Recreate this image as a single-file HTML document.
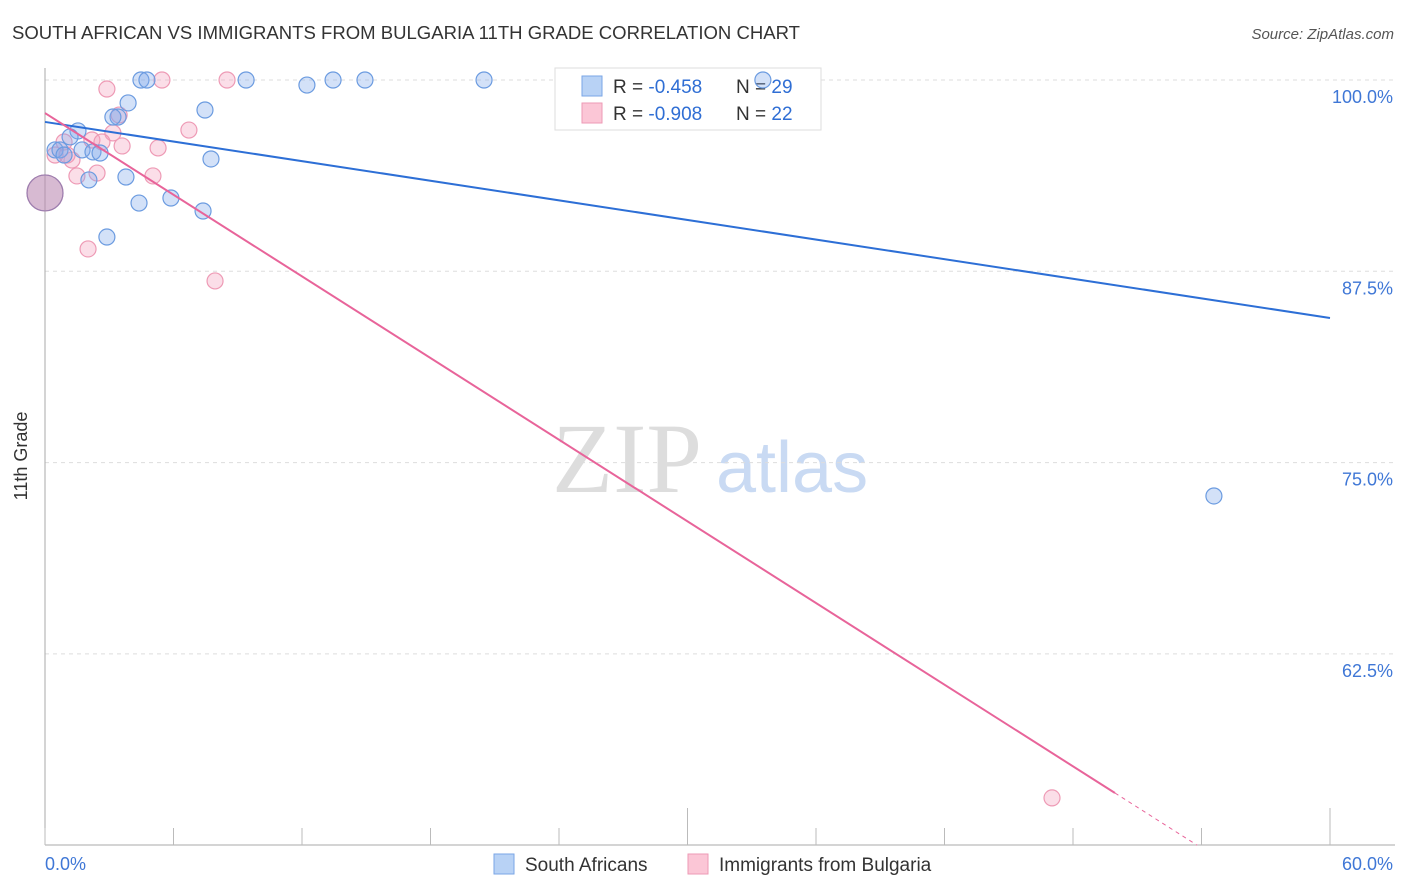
<!DOCTYPE html>
<html><head><meta charset="utf-8"><style>
body{margin:0;background:#fff;font-family:"Liberation Sans",sans-serif;}
svg{display:block}
</style></head><body>
<svg width="1406" height="892" xmlns="http://www.w3.org/2000/svg" id="chart">
<text x="12" y="39" font-size="18" fill="#333" textLength="788" lengthAdjust="spacingAndGlyphs">SOUTH AFRICAN VS IMMIGRANTS FROM BULGARIA 11TH GRADE CORRELATION CHART</text>
<text x="1394" y="39" font-size="15" fill="#555" font-style="italic" text-anchor="end">Source: ZipAtlas.com</text>
<g>
<text x="552" y="492" font-family="Liberation Serif,serif" font-size="100" fill="#ddd">ZIP</text>
<text x="716" y="492" font-size="72" fill="#c9daf3">atlas</text>
</g>
<g id="grid"></g>
<line x1="45" y1="68" x2="45" y2="845" stroke="#aaa"/>
<line x1="45" y1="845" x2="1395" y2="845" stroke="#aaa"/>
<g id="xticks"></g>
<text x="27" y="456" font-size="18" fill="#333" transform="rotate(-90 27 456)" text-anchor="middle">11th Grade</text>
<text x="45" y="870" font-size="18" fill="#3f77d6">0.0%</text>
<text x="1393" y="870" font-size="18" fill="#3f77d6" text-anchor="end">60.0%</text>
<g>
<rect x="555" y="68" width="266" height="62" fill="#fff" stroke="#ddd"/>
<rect x="582" y="76" width="20" height="20" fill="#b8d2f5" stroke="#7aa6e6"/>
<rect x="582" y="103" width="20" height="20" fill="#fbc6d6" stroke="#ee9ab5"/>
<text x="613" y="93" font-size="19" fill="#333">R = <tspan fill="#2f6ed4">-0.458</tspan></text>
<text x="736" y="93" font-size="19" fill="#333">N = <tspan fill="#2f6ed4">29</tspan></text>
<text x="613" y="120" font-size="19" fill="#333">R = <tspan fill="#2f6ed4">-0.908</tspan></text>
<text x="736" y="120" font-size="19" fill="#333">N = <tspan fill="#2f6ed4">22</tspan></text>
</g>
<g id="pts"></g>
<g id="lines"></g>
<g>
<rect x="494" y="854" width="20" height="20" fill="#b8d2f5" stroke="#7aa6e6"/>
<text x="525" y="871" font-size="19" fill="#333">South Africans</text>
<rect x="688" y="854" width="20" height="20" fill="#fbc6d6" stroke="#ee9ab5"/>
<text x="719" y="871" font-size="19" fill="#333">Immigrants from Bulgaria</text>
</g>
</svg>
<script>
const yTicks=[100,87.5,75,62.5];
const yTickLabels=["100.0%","87.5%","75.0%","62.5%"];
const xTicks=[0,6,12,18,24,30,36,42,48,54,60];
const blueX=[4.48,4.76,9.39,12.23,13.45,14.94,20.50,33.52,3.88,7.47,3.41,3.17,1.54,1.17,0.47,0.70,1.73,2.24,2.57,7.75,3.78,2.05,4.39,5.88,7.38,2.89,54.58,0.89,0];
const blueY=[100,100,100,99.67,100,100,100,100,98.50,98.04,97.58,97.58,96.67,96.28,95.43,95.43,95.43,95.30,95.23,94.84,93.66,93.47,91.96,92.29,91.44,89.74,72.82,95.10,92.62];
const pinkX=[2.89,5.46,8.50,3.46,6.72,3.17,2.19,0.89,5.28,1.26,0.47,1.03,1.49,2.43,5.04,2.01,7.94,47.02,0,2.66,3.60];
const pinkY=[99.41,100,100,97.71,96.73,96.54,96.08,95.95,95.56,94.77,95.10,95.10,93.73,93.92,93.73,88.96,86.87,53.09,92.62,95.95,95.69];
const blueFit=[97.26,84.45];
const pinkFit=[97.84,53.41];
const X=v=>45+v/60*1285;
const Y=v=>80+(100-v)*15.304;
const NS="http://www.w3.org/2000/svg";
function mk(t,a,p){const e=document.createElementNS(NS,t);for(const k in a)e.setAttribute(k,a[k]);p.appendChild(e);return e;}
const grid=document.getElementById('grid');
yTicks.forEach((v,i)=>{
 const l=mk('line',{x1:45,x2:1395,y1:Y(v),y2:Y(v),stroke:'#ddd','stroke-dasharray':'4,4'},grid);
 
 
 const t=mk('text',{x:1393,y:Y(v)+23,'font-size':18,fill:'#3f77d6','text-anchor':'end'},grid);
 t.textContent=yTickLabels[i];
 
 
});
const xt=document.getElementById('xticks');
xTicks.forEach(v=>{
 const major=(v===30||v===60);
 const l=mk('line',{x1:X(v),x2:X(v),y1:major?808:828,y2:845,stroke:'#bbb'},xt);
 
 
});
const pts=document.getElementById('pts');
pinkX.forEach((x,i)=>{
 const big=(x===0);
 const c=mk('circle',{cx:X(x),cy:Y(pinkY[i]),r:big?18:8,fill:'rgba(244,160,188,0.35)',stroke:'#ee9ab5','stroke-width':1.2},pts);
 
 
});
blueX.forEach((x,i)=>{
 const big=(x===0);
 const c=mk('circle',{cx:X(x),cy:Y(blueY[i]),r:big?18:8,fill:big?'rgba(150,120,170,0.35)':'rgba(130,170,235,0.35)',stroke:big?'#9a7fb0':'#6b9be0','stroke-width':1.2},pts);
 
 
});
const ln=document.getElementById('lines');
const b=mk('line',{x1:X(0),y1:Y(blueFit[0]),x2:X(60),y2:Y(blueFit[1]),stroke:'#2d6fd6','stroke-width':2},ln);


const pEnd=49.96;
const p=mk('line',{x1:X(0),y1:Y(pinkFit[0]),x2:X(pEnd),y2:Y(pinkFit[1]),stroke:'#e8649a','stroke-width':2},ln);


const slope=(pinkFit[1]-pinkFit[0])/pEnd;
const xe=(50-pinkFit[0])/slope;
const pd=mk('line',{x1:X(pEnd),y1:Y(pinkFit[1]),x2:X(xe),y2:Y(50),stroke:'#e8649a','stroke-width':1,'stroke-dasharray':'4,4'},ln);


</script>
</body></html>
